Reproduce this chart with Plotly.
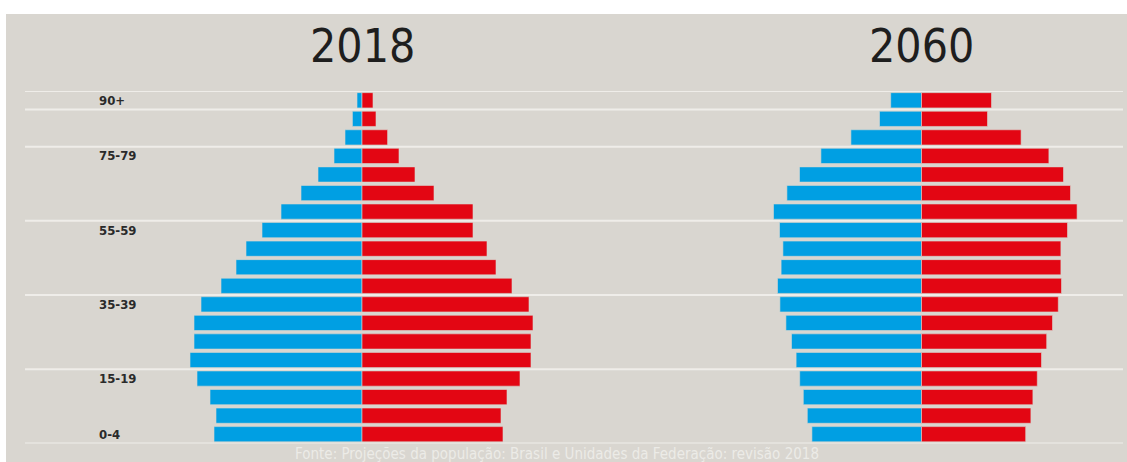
import plotly.graph_objects as go

W, H = 1127, 462

ages = ['0-4', '5-9', '10-14', '15-19', '20-24', '25-29', '30-34', '35-39', '40-44',
        '45-49', '50-54', '55-59', '60-64', '65-69', '70-74', '75-79', '80-84', '85-89', '90+']

# population, millions
male_2018 = [7.4, 7.3, 7.6, 8.25, 8.6, 8.4, 8.4, 8.05, 7.05, 6.3, 5.8, 5.0, 4.05, 3.05, 2.2, 1.4, 0.85, 0.48, 0.25]
female_2018 = [7.05, 6.95, 7.25, 7.9, 8.45, 8.45, 8.55, 8.35, 7.5, 6.7, 6.25, 5.55, 5.55, 3.6, 2.65, 1.85, 1.28, 0.7, 0.55]
male_2060 = [5.48, 5.71, 5.91, 6.09, 6.27, 6.5, 6.78, 7.08, 7.2, 7.02, 6.93, 7.1, 7.4, 6.73, 6.1, 5.03, 3.53, 2.1, 1.54]
female_2060 = [5.21, 5.47, 5.57, 5.79, 6.0, 6.26, 6.55, 6.84, 7.0, 6.97, 6.97, 7.3, 7.78, 7.45, 7.1, 6.37, 4.98, 3.3, 3.5]

years = ['2018', '2060']
label_ages = ['0-4', '15-19', '35-39', '55-59', '75-79', '90+']
boundaries = [-0.5, 3.5, 7.5, 11.5, 15.5, 17.5, 18.5]
source = 'Fonte: Projeções da população: Brasil e Unidades da Federação: revisão 2018'

BLUE = '#009fe3'
RED = '#e30613'
PANEL = '#d9d6d0'
LINE = '#efede9'
COND = 'Liberation Sans Narrow, DejaVu Sans Condensed, Arial Narrow, sans-serif'

def px(x):
    return x / W

def py(y):
    return 1 - y / H

fig = go.Figure()
for xa, m, f in [('x', male_2018, female_2018), ('x2', male_2060, female_2060)]:
    fig.add_trace(go.Bar(y=ages, x=[-v for v in m], orientation='h', xaxis=xa, yaxis='y',
                         marker=dict(color=BLUE, line=dict(color=PANEL, width=0.6)),
                         showlegend=False, hoverinfo='skip'))
    fig.add_trace(go.Bar(y=ages, x=f, orientation='h', xaxis=xa, yaxis='y',
                         marker=dict(color=RED, line=dict(color=PANEL, width=0.6)),
                         showlegend=False, hoverinfo='skip'))

shapes = [dict(type='rect', xref='paper', yref='paper', x0=px(6), x1=1, y0=0, y1=py(14),
               fillcolor=PANEL, line=dict(width=0), layer='below')]
for b in boundaries:
    shapes.append(dict(type='line', xref='paper', yref='y', x0=px(25), x1=px(1123), y0=b, y1=b,
                       line=dict(color=LINE, width=2), layer='below'))

centers = [362, 921.5]
annotations = []
for yr, c in zip(years, centers):
    annotations.append(dict(text=yr, x=px(c), y=py(46), xref='paper', yref='paper',
                            xanchor='center', yanchor='middle', showarrow=False,
                            font=dict(family=COND, size=46, color='#1e1e1e')))
annotations.append(dict(text=source, x=px(557), y=py(454), xref='paper', yref='paper',
                        xanchor='center', yanchor='middle', showarrow=False,
                        font=dict(family=COND, size=15, color='#ecebe7')))

half = 200
fig.update_layout(
    width=W, height=H, autosize=False,
    margin=dict(l=0, r=0, t=0, b=0, pad=0),
    paper_bgcolor='white', plot_bgcolor='rgba(0,0,0,0)',
    barmode='overlay', bargap=0.18,
    shapes=shapes, annotations=annotations,
    xaxis=dict(domain=[px(centers[0] - half), px(centers[0] + half)], range=[-10, 10],
               visible=False, anchor='y', fixedrange=True),
    xaxis2=dict(domain=[px(centers[1] - half), px(centers[1] + half)], range=[-10, 10],
                visible=False, anchor='y', fixedrange=True),
    yaxis=dict(domain=[py(443.5), py(91)], range=[-0.5, 18.5], type='category',
               categoryorder='array', categoryarray=ages,
               tickvals=label_ages, ticktext=label_ages,
               anchor='free', position=px(95), ticklabelposition='inside', side='left',
               ticks='', showgrid=False, zeroline=False, showline=False,
               tickfont=dict(family=COND, size=13, color='#2a2a2a', weight='bold'),
               fixedrange=True),
)

fig.write_html('out.html', config={'displayModeBar': False})
